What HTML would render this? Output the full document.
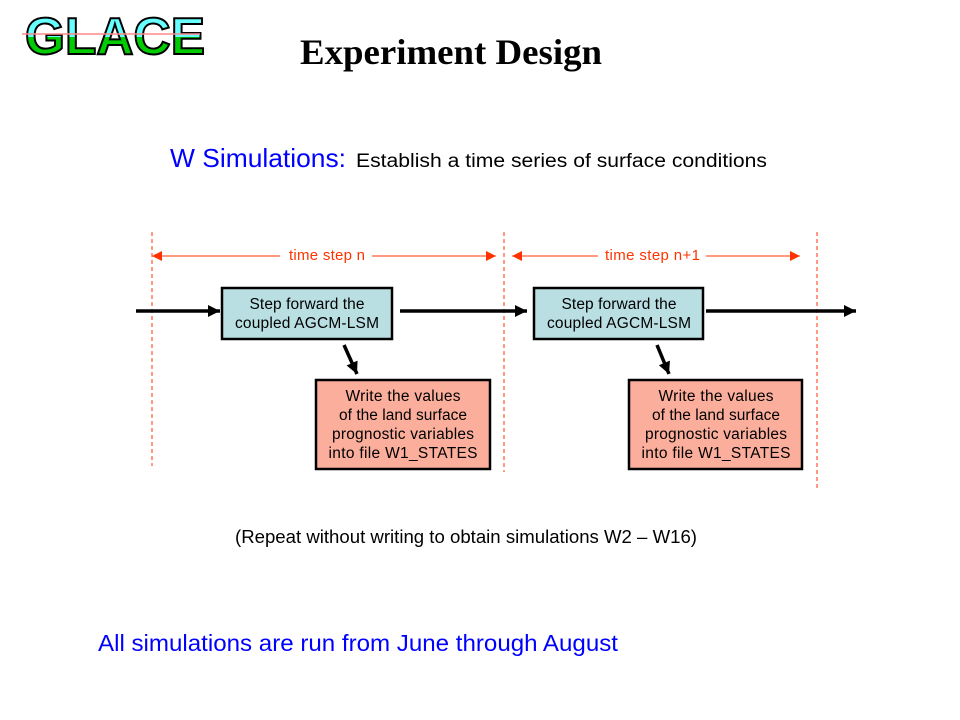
<!DOCTYPE html>
<html><head><meta charset="utf-8"><style>
html,body{margin:0;padding:0;background:#fff;}
svg{display:block;}
</style></head><body>
<svg width="960" height="720" viewBox="0 0 960 720" xmlns="http://www.w3.org/2000/svg">
<defs>
<linearGradient id="g" x1="0" y1="0" x2="0" y2="1">
<stop offset="0" stop-color="#66ffff"/><stop offset="0.5" stop-color="#66ffff"/>
<stop offset="0.5" stop-color="#00cc00"/><stop offset="1" stop-color="#00cc00"/>
</linearGradient>
<marker id="ar" viewBox="0 0 10 10" refX="10" refY="5" markerWidth="10" markerHeight="10" markerUnits="userSpaceOnUse" orient="auto"><path d="M0,0 L10,5 L0,10 z" fill="#ff3300"/></marker>
<marker id="ab" viewBox="0 0 10 10" refX="10" refY="5" markerWidth="13" markerHeight="12" markerUnits="userSpaceOnUse" orient="auto"><path d="M0,0 L10,5 L0,10 z" fill="#000"/></marker>
</defs>
<text x="25" y="54" font-family="Liberation Sans, sans-serif" font-weight="bold" font-size="52" fill="url(#g)" stroke="#000" stroke-width="2" textLength="180" lengthAdjust="spacingAndGlyphs">GLACE</text>
<line x1="22" y1="34" x2="200" y2="34" stroke="#ff8888" stroke-width="1.5"/>
<text x="300" y="64" font-family="Liberation Serif, serif" font-weight="bold" font-size="36" textLength="302" lengthAdjust="spacingAndGlyphs">Experiment Design</text>
<text x="170" y="167" font-family="Liberation Sans, sans-serif" font-size="26" fill="#0000ff" textLength="176" lengthAdjust="spacingAndGlyphs">W Simulations:</text>
<text x="356" y="167" font-family="Liberation Sans, sans-serif" font-size="19" fill="#000" textLength="411" lengthAdjust="spacingAndGlyphs">Establish a time series of surface conditions</text>
<g stroke="#ff3300" stroke-width="1" stroke-dasharray="4,3">
<line x1="152" y1="232" x2="152" y2="466"/>
<line x1="504" y1="232" x2="504" y2="472"/>
<line x1="817" y1="232" x2="817" y2="490"/>
</g>
<g stroke="#ff3300" stroke-width="1">
<line x1="280" y1="256" x2="152" y2="256" marker-end="url(#ar)"/>
<line x1="372" y1="256" x2="496" y2="256" marker-end="url(#ar)"/>
<line x1="598" y1="256" x2="512" y2="256" marker-end="url(#ar)"/>
<line x1="706" y1="256" x2="800" y2="256" marker-end="url(#ar)"/>
</g>
<g font-family="Liberation Sans, sans-serif" font-size="15" fill="#ff3300" lengthAdjust="spacingAndGlyphs">
<text x="289" y="260" textLength="76">time step n</text>
<text x="605" y="260" textLength="95">time step n+1</text>
</g>
<g stroke="#000" stroke-width="3.5" fill="none">
<line x1="136" y1="311" x2="220" y2="311" marker-end="url(#ab)"/>
<line x1="400" y1="311" x2="527" y2="311" marker-end="url(#ab)"/>
<line x1="706" y1="311" x2="856" y2="311" marker-end="url(#ab)"/>
<line x1="344" y1="345" x2="357" y2="374" marker-end="url(#ab)"/>
<line x1="657" y1="345" x2="669" y2="374" marker-end="url(#ab)"/>
</g>
<g stroke="#000" stroke-width="2.5">
<rect x="222" y="288" width="170" height="51" fill="#b9dfe2"/>
<rect x="534" y="288" width="169" height="51" fill="#b9dfe2"/>
<rect x="316" y="380" width="174" height="89" fill="#fbae9b"/>
<rect x="629" y="380" width="173" height="89" fill="#fbae9b"/>
</g>
<g font-family="Liberation Sans, sans-serif" font-size="15.5" fill="#000" text-anchor="middle" lengthAdjust="spacingAndGlyphs">
<text x="307" y="309" textLength="115">Step forward the</text><text x="307" y="328" textLength="144">coupled AGCM-LSM</text>
<text x="619" y="309" textLength="115">Step forward the</text><text x="619" y="328" textLength="144">coupled AGCM-LSM</text>
<text x="403" y="401" textLength="115">Write the values</text><text x="403" y="420" textLength="128">of the land surface</text><text x="403" y="439" textLength="142">prognostic variables</text><text x="403" y="458" textLength="149">into file W1_STATES</text>
<text x="716" y="401" textLength="115">Write the values</text><text x="716" y="420" textLength="128">of the land surface</text><text x="716" y="439" textLength="142">prognostic variables</text><text x="716" y="458" textLength="149">into file W1_STATES</text>
</g>
<text x="235" y="543" font-family="Liberation Sans, sans-serif" font-size="18" textLength="462" lengthAdjust="spacingAndGlyphs">(Repeat without writing to obtain simulations W2 – W16)</text>
<text x="98" y="651" font-family="Liberation Sans, sans-serif" font-size="23" fill="#0000ff" textLength="520" lengthAdjust="spacingAndGlyphs">All simulations are run from June through August</text>
</svg>
</body></html>
